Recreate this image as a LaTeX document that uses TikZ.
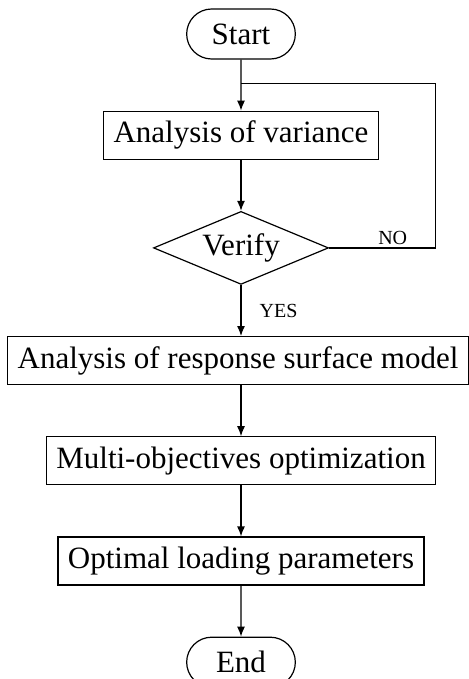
\documentclass[tikz,border=0pt]{standalone}
\usepackage{fontspec}
\setmainfont{Liberation Serif}
\usetikzlibrary{positioning,shapes.geometric,shapes.misc,arrows.meta}

\begin{document}
\begin{tikzpicture}[
   node distance=25.5pt,
   >={Latex[length=5pt,width=4pt]},
   every node/.style={font=\fontsize{15.5}{18}\selectfont},
   process/.style={shape=rectangle, draw, line width=0.6pt, align=center,
        inner xsep=5pt, minimum height=24pt},
   terminal/.style={shape=rounded rectangle, draw, line width=0.6pt,
        minimum width=61pt, minimum height=25pt},
   decision/.style={shape=diamond, draw, line width=0.6pt, inner sep=0pt,
        shape aspect=2.4, minimum width=87.5pt, minimum height=36.5pt},
   tag/.style={font=\fontsize{10}{12}\selectfont, inner sep=1.5pt},
   flow/.style={->, line width=0.6pt}
   ]
\useasboundingbox (0,0) rectangle (234pt,-339.5pt);
\node[terminal] (start) at (120.5pt,-17pt) {Start};
\node[process, below=of start] (variance) {Analysis of variance};
\node[decision, below=of variance] (verify) {Verify};
\node[process, below=of verify, xshift=-1.5pt] (surface) {Analysis of response surface model};
\node[process, below=of surface, xshift=1.5pt] (multi) {Multi-objectives optimization};
\node[process, below=of multi] (optimal) {Optimal loading parameters};
\node[terminal, below=of optimal] (stop) {End};
\coordinate (join) at ([yshift=-12pt]start.south);

\draw[flow] (start) -- (variance);
\draw[flow] (variance) -- (verify);
\draw[flow] (verify) -- node[tag, midway, right=7.5pt] {YES} (verify.south |- surface.north);
\draw[flow] (multi.north |- surface.south) -- (multi);
\draw[flow] (multi) -- (optimal);
\draw[flow] (optimal) -- (stop);
% NO branch back to the top
\draw[line width=0.6pt] (verify.east) -- node[tag, above, pos=0.6] {NO} ++(53pt,0) |- (join);
\end{tikzpicture}
\end{document}
